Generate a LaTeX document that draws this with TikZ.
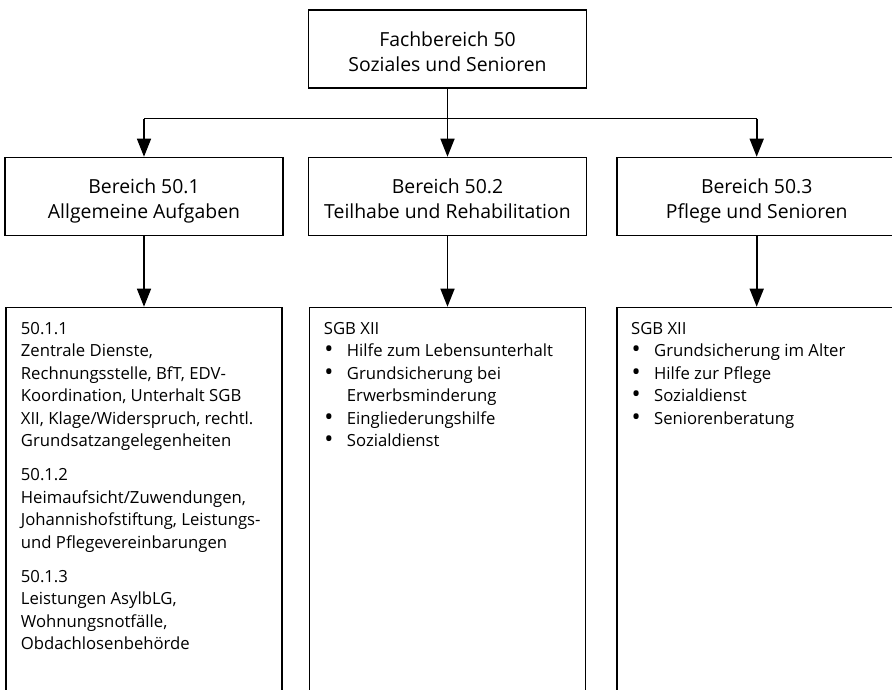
\documentclass[tikz,border=0pt]{standalone}
\usepackage{fontspec}
\setmainfont{Open Sans}
\usetikzlibrary{arrows.meta}
\newcommand{\bitem}[1]{\makebox[23pt][l]{\hspace{0.5pt}\raisebox{-1.2pt}{\scalebox{1.45}{\textbullet}}}#1}
\newcommand{\bcont}[1]{\hspace*{23pt}#1}
\newcommand{\headtext}[2]{\rule{0pt}{19pt}#1\\\smash{#2}}
\begin{document}
\begin{tikzpicture}[x=1pt,y=-1pt,
  headbox/.style={draw=black, line width=1.6pt, inner sep=0pt, align=center,
    minimum height=78pt, font=\fontsize{19.4}{25}\selectfont},
  listbox/.style={draw=black, line width=1.6pt, inner sep=0pt, minimum height=412pt},
  listtext/.style={anchor=north west, inner sep=0pt, align=left,
    font=\fontsize{16.7}{22.5}\selectfont},
  conn/.style={line width=1.6pt, -{Triangle[length=18pt,width=14pt]}},
  plain/.style={line width=1.6pt}]
\useasboundingbox (0,0) rectangle (892,689);
\clip (0,0) rectangle (892,689);

% top
\node[headbox, minimum width=278pt] (top) at (447.5,49) {\headtext{Fachbereich 50}{Soziales und Senioren}};

% level 2
\node[headbox, minimum width=278pt] (b1) at (144,196.5) {\headtext{Bereich 50.1}{Allgemeine Aufgaben}};
\node[headbox, minimum width=278pt] (b2) at (447.5,196.5) {\headtext{Bereich 50.2}{Teilhabe und Rehabilitation}};
\node[headbox, minimum width=279pt] (b3) at (756.7,196.5) {\headtext{Bereich 50.3}{Pflege und Senioren}};

% level 3 boxes
\node[listbox, minimum width=276pt] (l1) at (144,513.5) {};
\node[listbox, minimum width=276pt] (l2) at (447.5,513.5) {};
\node[listbox, minimum width=280pt] (l3) at (756.7,513.5) {};

% connectors
\coordinate (bus) at (447.5,118.5);
\draw[plain] (top.south) -- (bus);
\draw[plain] (b1.north |- bus) -- (b3.north |- bus);
\draw[conn] (bus) -- (b2.north);
\draw[conn] (b1.north |- bus) -- (b1.north);
\draw[conn] (b3.north |- bus) -- (b3.north);
\draw[conn] (b1.south) -- (l1.north);
\draw[conn] (b2.south) -- (l2.north);
\draw[conn] (b3.south) -- (l3.north);

% texts
\node[listtext] (t1) at ([shift={(15.5,15)}]l1.north west) {%
50.1.1\\
Zentrale Dienste,\\
Rechnungsstelle, BfT, EDV-\\
Koordination, Unterhalt SGB\\
XII, Klage/Widerspruch, rechtl.\\
Grundsatzangelegenheiten\\[11.5pt]
50.1.2\\
Heimaufsicht/Zuwendungen,\\
Johannishofstiftung, Leistungs-\\
und Pflegevereinbarungen\\[11.5pt]
50.1.3\\
Leistungen AsylbLG,\\
Wohnungsnotfälle,\\
Obdachlosenbehörde};

\node[listtext] (t2) at ([shift={(15,15)}]l2.north west) {%
SGB XII\\
\bitem{Hilfe zum Lebensunterhalt}\\
\bitem{Grundsicherung bei}\\
\bcont{Erwerbsminderung}\\
\bitem{Eingliederungshilfe}\\
\bitem{Sozialdienst}};

\node[listtext] (t3) at ([shift={(15,15)}]l3.north west) {%
SGB XII\\
\bitem{Grundsicherung im Alter}\\
\bitem{Hilfe zur Pflege}\\
\bitem{Sozialdienst}\\
\bitem{Seniorenberatung}};
\end{tikzpicture}
\end{document}
